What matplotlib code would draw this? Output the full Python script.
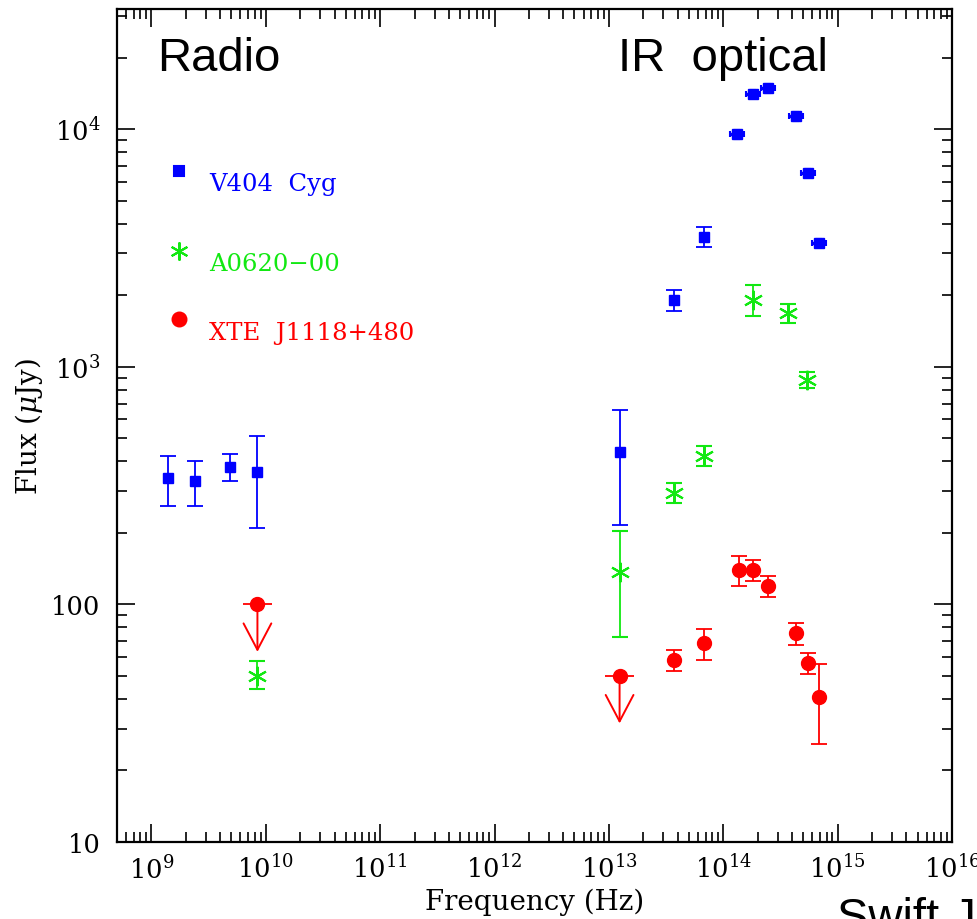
import numpy as np
import matplotlib
matplotlib.use("Agg")
import matplotlib.pyplot as plt

plt.rcParams['font.family'] = ['DejaVu Serif']
plt.rcParams['mathtext.fontset'] = 'dejavuserif'

BLUE = '#0000ff'
GREEN = '#12e812'
RED = '#ff0000'

# V404 Cyg, points with error bars (Hz, microJy)
v404_freq = [1.4e9, 2.4e9, 4.9e9, 8.45e9, 1.24e13, 3.7e13, 6.75e13]
v404_flux = [341, 331, 379, 361, 438, 1914, 3524]
v404_lo = [260, 260, 331, 210, 216, 1722, 3200]
v404_hi = [422, 402, 430, 511, 659, 2109, 3880]

# V404 Cyg optical points (tiny errors)
v404_opt_freq = [1.31e14, 1.81e14, 2.45e14, 4.31e14, 5.5e14, 6.85e14]
v404_opt_flux = [9490, 14100, 14830, 11300, 6560, 3327]

# A0620-00
a0620_freq = [8.45e9, 1.24e13, 3.7e13, 6.75e13, 1.81e14, 3.66e14, 5.37e14]
a0620_flux = [50, 137, 294, 422, 1914, 1687, 881]
a0620_lo = [44, 73, 267, 383, 1640, 1531, 816]
a0620_hi = [57.8, 204, 325, 464, 2213, 1841, 953]

# XTE J1118+480
xte_freq = [3.7e13, 6.75e13, 1.37e14, 1.81e14, 2.45e14, 4.31e14, 5.5e14, 6.85e14]
xte_flux = [58.3, 68.9, 139.6, 139.6, 119.7, 75.9, 56.8, 40.8]
xte_lo = [52.5, 58.3, 119.7, 125, 107.6, 67.5, 50.9, 25.9]
xte_hi = [64.3, 78.9, 160, 154, 132, 83.6, 62.5, 56.1]

# XTE J1118+480 upper limits
xte_lim_freq = [8.45e9, 1.24e13]
xte_lim_flux = [100, 50]

x_ticks = [10.0**k for k in range(9, 17)]
x_labels = [r'$10^{%d}$' % k for k in range(9, 17)]
y_ticks = [10, 100, 1000, 10000]
y_labels = ['10', '100', r'$10^{3}$', r'$10^{4}$']


def yerr(flux, lo, hi):
    flux = np.array(flux)
    return [flux - np.array(lo), np.array(hi) - flux]


fig = plt.figure(figsize=(9.78, 9.2), dpi=100)
ax = fig.add_axes([117 / 978, 77 / 920, 835 / 978, 833 / 920])
ax.set_xscale('log')
ax.set_yscale('log')
ax.set_xlim(5e8, 1e16)
ax.set_ylim(10, 3.2e4)

eb = dict(ls='none', elinewidth=1.3, capsize=5.5, capthick=1.3)

ax.errorbar(v404_freq, v404_flux, yerr=yerr(v404_flux, v404_lo, v404_hi),
            color=BLUE, marker='s', ms=7.5, **eb)
f = np.array(v404_opt_freq)
ax.errorbar(v404_opt_freq, v404_opt_flux,
            xerr=[f - f / 10**0.06, f * 10**0.06 - f],
            yerr=[np.array(v404_opt_flux) * 0.04, np.array(v404_opt_flux) * 0.04],
            color=BLUE, marker='s', ms=7.5, ls='none', elinewidth=2.5,
            capsize=2, capthick=1.5)

ax.errorbar(a0620_freq, a0620_flux, yerr=yerr(a0620_flux, a0620_lo, a0620_hi),
            color=GREEN, marker=(6, 2, 0), ms=14, mew=1.5, **eb)

ax.errorbar(xte_freq, xte_flux, yerr=yerr(xte_flux, xte_lo, xte_hi),
            color=RED, marker='o', ms=10, **eb)

# upper limits: point, horizontal bar, arrow down
f = np.array(xte_lim_freq)
ax.errorbar(xte_lim_freq, xte_lim_flux, xerr=[f - f / 10**0.13, f * 10**0.13 - f],
            color=RED, marker='o', ms=10, ls='none', elinewidth=1.3, capsize=0)
for fq, fl in zip(xte_lim_freq, xte_lim_flux):
    ax.annotate('', xy=(fq, fl / 10**0.2), xytext=(fq, fl),
                arrowprops=dict(arrowstyle='->,head_width=1.0,head_length=1.9',
                                color=RED, lw=1.4, shrinkA=0, shrinkB=0))

# legend drawn by hand
leg_names = ['V404  Cyg', 'A0620\u221200', 'XTE  J1118+480']
leg_colors = [BLUE, GREEN, RED]
leg_markers = ['s', (6, 2, 0), 'o']
leg_ms = [7, 13, 10]
leg_y = [0.806, 0.710, 0.628]
for name, c, m, s, yy in zip(leg_names, leg_colors, leg_markers, leg_ms, leg_y):
    ax.plot([0.0743], [yy], marker=m, color=c, ms=s, mew=1.5,
            transform=ax.transAxes, ls='none')
    ax.text(0.110, yy - 0.016, name, color=c, fontsize=17.5,
            transform=ax.transAxes, va='center', ha='left')

ax.text(0.048, 0.927, 'Radio', fontsize=34, family='Liberation Sans',
        transform=ax.transAxes, va='baseline')
ax.text(0.600, 0.927, 'IR  optical', fontsize=34, family='Liberation Sans',
        transform=ax.transAxes, va='baseline')
fig.text(837 / 978, -0.012, 'Swift J', fontsize=34, family='Liberation Sans',
         va='baseline')

ax.set_xticks(x_ticks)
ax.set_xticklabels(x_labels)
ax.set_yticks(y_ticks)
ax.set_yticklabels(y_labels)
ax.tick_params(which='both', direction='in', top=True, right=True,
               labelsize=18.5, width=1.2)
ax.tick_params(which='major', length=13)
ax.tick_params(which='minor', length=7)
ax.tick_params(axis='x', pad=9)
ax.tick_params(axis='y', pad=12)
for sp in ax.spines.values():
    sp.set_linewidth(1.6)

ax.set_xlabel('Frequency (Hz)', fontsize=20, labelpad=3)
ax.set_ylabel(r'Flux ($\mu$Jy)', fontsize=20, labelpad=4)

fig.savefig('out.png', dpi=100)
